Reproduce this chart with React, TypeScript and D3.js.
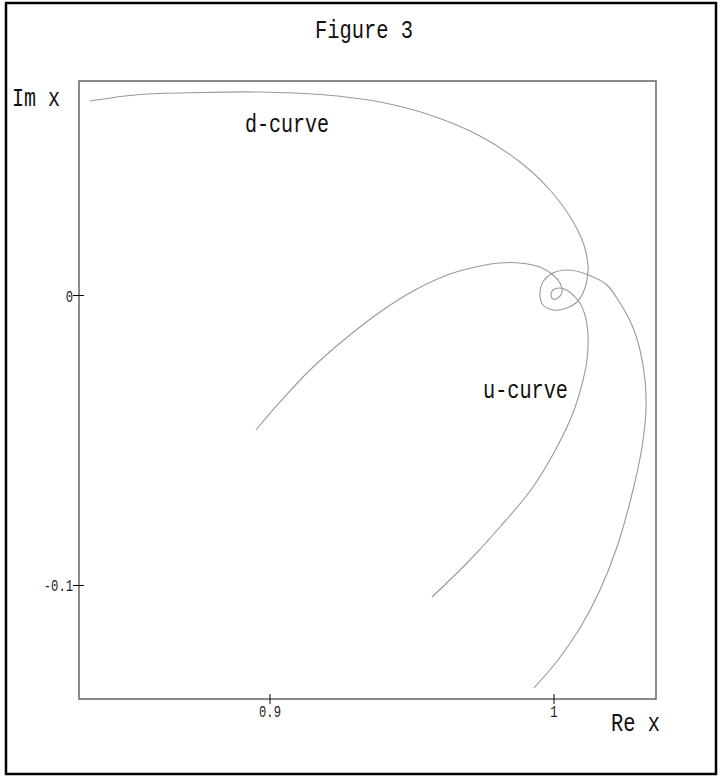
import React from "react";
import * as d3 from "d3";

// Complex-plane trajectories: [Re x, Im x]
const dCurve: [number, number][] = [
  [0.8366, 0.06707], [0.85423, 0.06931], [0.87535, 0.07], [0.89648, 0.07017],
  [0.91761, 0.06931], [0.93873, 0.06672], [0.95634, 0.06224], [0.97394, 0.055],
  [0.98803, 0.04603], [0.99859, 0.03638], [1.00634, 0.02603], [1.01056, 0.01741],
  [1.01197, 0.01052], [1.01197, 0.0081], [1.01092, 0.00259], [1.0081, -0.00224],
  [1.00458, -0.00431], [0.99965, -0.005], [0.99613, -0.00328], [0.99507, 0.00017],
  [0.99613, 0.00466], [0.99965, 0.00776], [1.00458, 0.00879], [1.00915, 0.0081],
  [1.01373, 0.00638], [1.01866, 0.00362], [1.02324, -0.00259], [1.02746, -0.01017],
  [1.03028, -0.01879], [1.03204, -0.02914], [1.03239, -0.03948], [1.03099, -0.05224],
  [1.02782, -0.06707], [1.02218, -0.08672], [1.01620, -0.10155], [1.00915, -0.11466],
  [1.00141, -0.12569], [0.99296, -0.13534],
];

const uCurve: [number, number][] = [
  [0.89507, -0.04638], [0.90352, -0.03672], [0.91408, -0.02569], [0.92641, -0.01500],
  [0.93873, -0.00569], [0.95106, 0.00190], [0.96338, 0.00741], [0.97394, 0.01017],
  [0.98099, 0.01121], [0.98803, 0.01121], [0.99507, 0.00983], [0.99965, 0.00707],
  [1.00211, 0.00431], [1.00282, 0.00121], [1.00141, -0.00086], [0.99965, -0.00121],
  [0.99894, 0.00017], [0.99965, 0.0019], [1.00211, 0.00259], [1.00493, 0.00155],
  [1.00739, -0.00052], [1.00915, -0.00259], [1.01092, -0.00672], [1.01197, -0.01362],
  [1.01162, -0.02224], [1.01021, -0.02914], [1.00669, -0.04052], [1.00106, -0.05224],
  [0.99261, -0.06603], [0.98099, -0.07983], [0.96937, -0.09224], [0.95704, -0.10397],
];

const xTicks = [0.9, 1];
const xTickLabels = ["0.9", "1"];
const yTicks = [0, -0.1];
const yTickLabels = ["0", "-0.1"];

const reDomain: [number, number] = [0.83275, 1.03592];
const imDomain: [number, number] = [-0.13914, 0.07397];

const W = 720;
const H = 776;
const plot = { left: 79, right: 656, top: 81, bottom: 699 };
const FONT = "'Liberation Mono', 'DejaVu Sans Mono', monospace";

export default function App() {
  const x = d3.scaleLinear().domain(reDomain).range([plot.left, plot.right]);
  const y = d3.scaleLinear().domain(imDomain).range([plot.bottom, plot.top]);
  const line = d3
    .line<[number, number]>()
    .x((d) => x(d[0]))
    .y((d) => y(d[1]))
    .curve(d3.curveCatmullRom.alpha(0.5));

  return (
    <svg
      width={W}
      height={H}
      style={{ position: "absolute", left: 0, top: 0, background: "#fff" }}
    >
      <rect x={0} y={0} width={W} height={H} fill="#fff" />
      {/* outer frame */}
      <rect x={6} y={3} width={710} height={771} fill="none" stroke="#000" strokeWidth={2.5} />

      <text x={364} y={38} fontFamily={FONT} fontSize={26} textLength={98} lengthAdjust="spacingAndGlyphs" textAnchor="middle" fill="#111">
        Figure 3
      </text>

      {/* plot box */}
      <rect
        x={plot.left}
        y={plot.top}
        width={plot.right - plot.left}
        height={plot.bottom - plot.top}
        fill="none"
        stroke="#666"
        strokeWidth={1.5}
      />

      {/* curves */}
      <path d={line(dCurve) ?? ""} fill="none" stroke="#999" strokeWidth={1.1} />
      <path d={line(uCurve) ?? ""} fill="none" stroke="#999" strokeWidth={1.1} />

      {/* x ticks */}
      {xTicks.map((t, i) => (
        <g key={`xt${i}`}>
          <line x1={x(t)} x2={x(t)} y1={plot.bottom - 5} y2={plot.bottom + 5} stroke="#000" strokeWidth={1} />
          <text x={x(t)} y={717} fontFamily={FONT} fontSize={17} textLength={xTickLabels[i].length * 7.3} lengthAdjust="spacingAndGlyphs" textAnchor="middle" fill="#222">
            {xTickLabels[i]}
          </text>
        </g>
      ))}

      {/* y ticks */}
      {yTicks.map((t, i) => (
        <g key={`yt${i}`}>
          <line x1={plot.left - 6} x2={plot.left + 5} y1={y(t)} y2={y(t)} stroke="#000" strokeWidth={1} />
          <text x={plot.left - 6} y={y(t) + 6} fontFamily={FONT} fontSize={17} textLength={yTickLabels[i].length * 7.3} lengthAdjust="spacingAndGlyphs" textAnchor="end" fill="#222">
            {yTickLabels[i]}
          </text>
        </g>
      ))}

      {/* axis titles */}
      <text x={12} y={106} fontFamily={FONT} fontSize={26} textLength={48} lengthAdjust="spacingAndGlyphs" fill="#111">
        Im x
      </text>
      <text x={611} y={731} fontFamily={FONT} fontSize={26} textLength={49} lengthAdjust="spacingAndGlyphs" fill="#111">
        Re x
      </text>

      {/* curve labels */}
      <text x={245} y={132} fontFamily={FONT} fontSize={26} textLength={84} lengthAdjust="spacingAndGlyphs" fill="#111">
        d-curve
      </text>
      <text x={483} y={398} fontFamily={FONT} fontSize={26} textLength={85} lengthAdjust="spacingAndGlyphs" fill="#111">
        u-curve
      </text>
    </svg>
  );
}
